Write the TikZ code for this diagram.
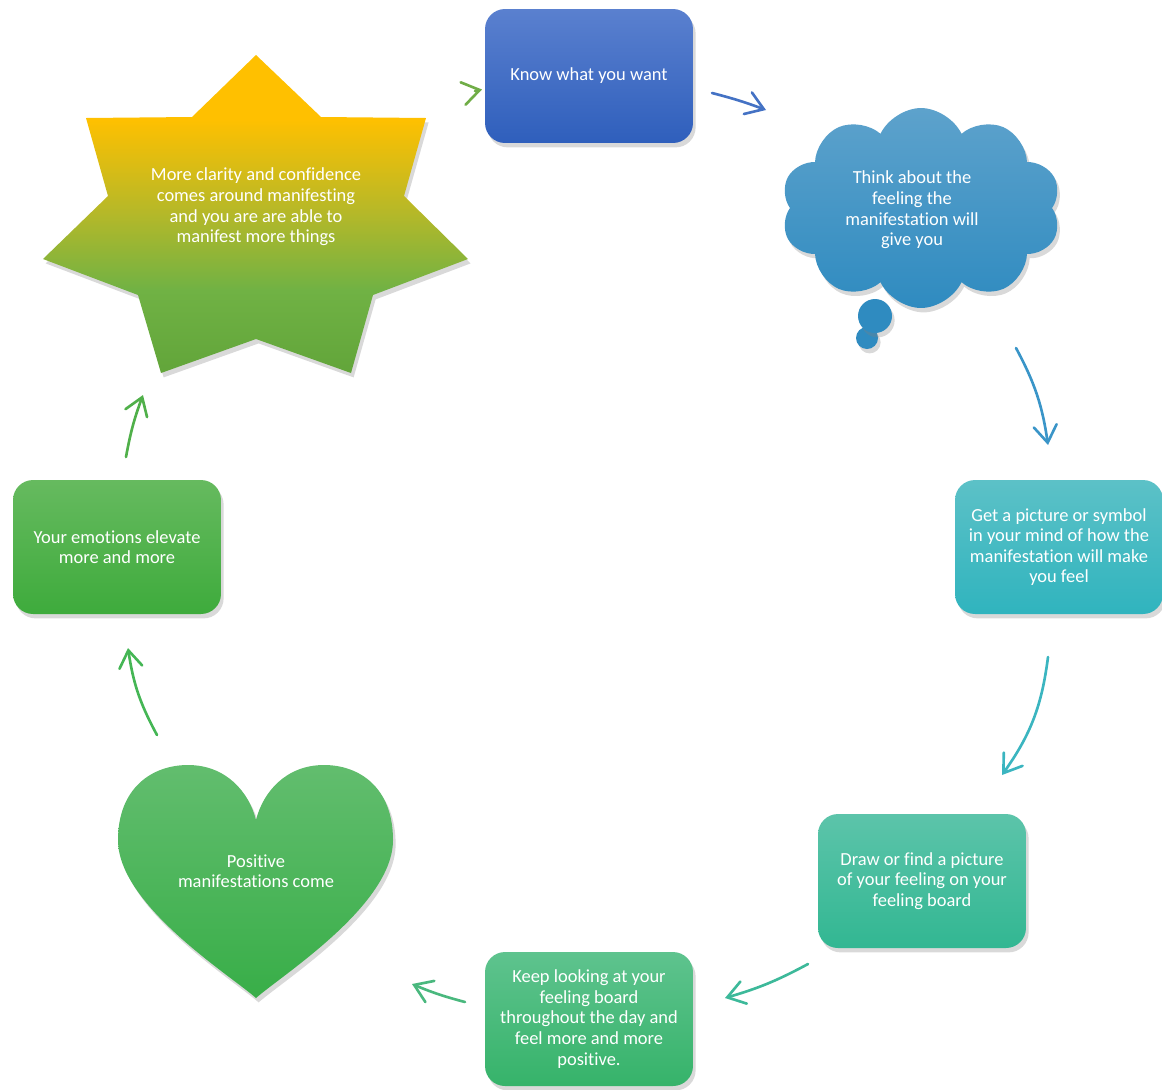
\documentclass[tikz,border=0pt]{standalone}
\usepackage{fontspec}
\setmainfont{Carlito}[Ligatures=NoCommon]
\usetikzlibrary{shapes.symbols,shadows,arrows.meta}
\definecolor{bAt}{HTML}{5A80CF}\definecolor{bAb}{HTML}{2F5FBC}
\definecolor{clt}{HTML}{5DA2CC}\definecolor{clb}{HTML}{2F8BC0}
\definecolor{bCt}{HTML}{5CC1C7}\definecolor{bCb}{HTML}{30B4BE}
\definecolor{bDt}{HTML}{5CC4AA}\definecolor{bDb}{HTML}{32B792}
\definecolor{bEt}{HTML}{5EC38E}\definecolor{bEb}{HTML}{36B36A}
\definecolor{hT}{HTML}{62BD6E}\definecolor{hB}{HTML}{38AE48}
\definecolor{bGt}{HTML}{66BA5F}\definecolor{bGb}{HTML}{3EAB3C}
\definecolor{stY}{HTML}{FFC000}\definecolor{stM}{HTML}{B4B829}
\definecolor{stG}{HTML}{70B244}\definecolor{stH}{HTML}{62A53A}
\definecolor{aA}{HTML}{70AD47}\definecolor{aB}{HTML}{4472C4}
\definecolor{aC}{HTML}{3A95C8}\definecolor{aD}{HTML}{3BB5C0}
\definecolor{aE}{HTML}{3DB99A}\definecolor{aF}{HTML}{4AB87E}
\definecolor{aG}{HTML}{45B655}\definecolor{aH}{HTML}{50B04A}
\pgfdeclareverticalshading{starshade}{100bp}{color(0bp)=(stH); color(25bp)=(stH); color(38bp)=(stG); color(50bp)=(stM); color(65bp)=(stY); color(100bp)=(stY)}
\begin{document}
\begin{tikzpicture}[x=0.02cm,y=-0.02cm,
  txt/.style={text=white, align=center, font=\fontsize{10.5}{11.7}\selectfont},
  shad/.style={drop shadow={opacity=0.3, shadow xshift=1.5pt, shadow yshift=-2.5pt}},
  box/.style={txt, shad, rounded corners=0.4cm, minimum width=4.16cm, minimum height=2.68cm},
  arr/.style={line width=1.5pt, line cap=round, -{Straight Barb[length=3.4mm,width=4.6mm,line cap=round]}},
]
\path[use as bounding box] (0,0) rectangle (1162,1089);
% star
\path[shading=starshade, shad] (256,55) -- (321,117) -- (426,118) -- (404,196) -- (468,259) -- (373,295) -- (351,373) -- (256,339) -- (161,373) -- (138,295) -- (43,259) -- (108,196) -- (86,118) -- (192,117) -- cycle;
\node[txt] (clarity) at (256,207) {More clarity and confidence\\comes around manifesting\\and you are are able to\\manifest more things};
% box 1
\node[box, top color=bAt, bottom color=bAb] (know) at (589,76) {Know what you want};
% cloud
\path[fill=clb, shad] (867,338) circle[radius=0.22cm];
\path[fill=clb, shad] (875,316) circle[radius=0.34cm];
\node[cloud, cloud puffs=10, cloud puff arc=130, cloud ignores aspect, minimum width=5.6cm, minimum height=4.0cm, top color=clt, bottom color=clb, shad] (cloud) at (921,208) {};
\node[txt] (think) at (912,210) {Think about the\\feeling the\\manifestation will\\give you};
% box 3
\node[box, top color=bCt, bottom color=bCb] (picture) at (1059,547) {Get a picture or symbol\\in your mind of how the\\manifestation will make\\you feel};
% box 4
\node[box, top color=bDt, bottom color=bDb] (draw) at (922,881) {Draw or find a picture\\of your feeling on your\\feeling board};
% box 5
\node[box, top color=bEt, bottom color=bEb] (keep) at (589,1019) {Keep looking at your\\feeling board\\throughout the day and\\feel more and more\\positive.};
% heart
\path[top color=hT, bottom color=hB, shad] (256,998) .. controls (230,975) and (118,905) .. (118,840) .. controls (118,788) and (152,765) .. (188,765) .. controls (226,765) and (249,792) .. (256,820) .. controls (263,792) and (286,765) .. (324,765) .. controls (360,765) and (393,788) .. (393,840) .. controls (393,905) and (282,975) .. (256,998) -- cycle;
\node[txt] (positive) at (256,871) {Positive\\manifestations come};
% box 7
\node[box, top color=bGt, bottom color=bGb] (emotions) at (117,547) {Your emotions elevate\\more and more};
% arrows
\coordinate (a1s) at (475,91); \coordinate (a1e) at (482,89.5);
\coordinate (a2s) at (712,93); \coordinate (a2e) at (766,110);
\coordinate (a3s) at (1016,348); \coordinate (a3e) at (1048,445);
\coordinate (a4s) at (1048,657); \coordinate (a4e) at (1002,775);
\coordinate (a5s) at (808,964); \coordinate (a5e) at (725,998);
\coordinate (a6s) at (465,1002); \coordinate (a6e) at (412,984);
\coordinate (a7s) at (157,735); \coordinate (a7e) at (128,648);
\coordinate (a8s) at (126,457); \coordinate (a8e) at (143,395);
\draw[arr, aA] (a1s) -- (a1e);
\draw[arr, aB] (a2s) to[bend left=3] (a2e);
\draw[arr, aC] (a3s) to[bend left=10] (a3e);
\draw[arr, aD] (a4s) to[bend left=14] (a4e);
\draw[arr, aE] (a5s) to[bend left=6] (a5e);
\draw[arr, aF] (a6s) to[bend left=4] (a6e);
\draw[arr, aG] (a7s) to[bend left=10] (a7e);
\draw[arr, aH] (a8s) to[bend left=5] (a8e);
\end{tikzpicture}
\end{document}
